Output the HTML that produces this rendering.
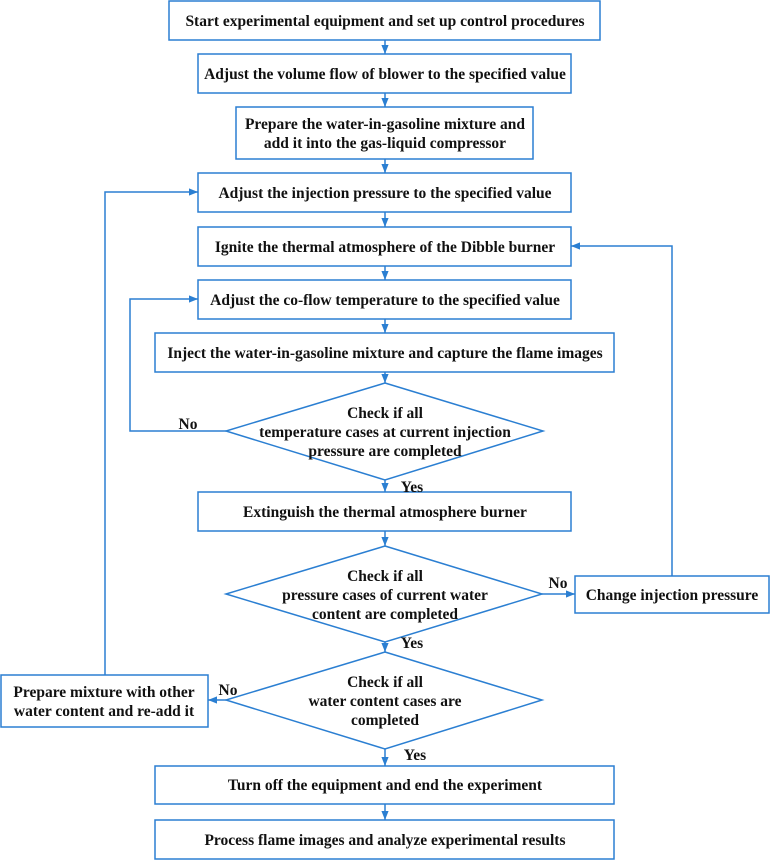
<!DOCTYPE html>
<html><head><meta charset="utf-8"><style>
html,body{margin:0;padding:0;background:#fff;}
svg{display:block}
text{font-family:"Liberation Serif",serif;font-weight:bold;font-size:15.5px;fill:#111;text-anchor:middle;}
.b{fill:#fff;stroke:#2b7fd2;stroke-width:1.5}
.l{fill:none;stroke:#2b7fd2;stroke-width:1.5}
.a{fill:#2b7fd2}
</style></head><body>
<svg width="771" height="861" viewBox="0 0 771 861" xmlns="http://www.w3.org/2000/svg">
<defs><marker id="m" viewBox="0 0 10 10" refX="10" refY="5" markerWidth="6" markerHeight="6" orient="auto"><path d="M0,1 L10,5 L0,9 z" class="a"/></marker></defs>
<rect class="b" x="169" y="1" width="431" height="39"/>
<text x="385" y="26">Start experimental equipment and set up control procedures</text>
<rect class="b" x="198" y="54" width="373" height="39"/>
<text x="385" y="79">Adjust the volume flow of blower to the specified value</text>
<rect class="b" x="236" y="107" width="297" height="52"/>
<text x="385" y="129">Prepare the water-in-gasoline mixture and</text>
<text x="385" y="148">add it into the gas-liquid compressor</text>
<rect class="b" x="198" y="173" width="373" height="39"/>
<text x="385" y="198">Adjust the injection pressure to the specified value</text>
<rect class="b" x="198" y="227" width="373" height="39"/>
<text x="385" y="252">Ignite the thermal atmosphere of the Dibble burner</text>
<rect class="b" x="198" y="280" width="373" height="39"/>
<text x="385" y="305">Adjust the co-flow temperature to the specified value</text>
<rect class="b" x="155" y="333" width="459" height="39"/>
<text x="385" y="358">Inject the water-in-gasoline mixture and capture the flame images</text>
<polygon class="b" points="385,383 543,431 385,480 226,431"/>
<text x="385" y="418">Check if all</text>
<text x="385" y="437">temperature cases at current injection</text>
<text x="385" y="456">pressure are completed</text>
<rect class="b" x="198" y="492" width="373" height="39"/>
<text x="385" y="517">Extinguish the thermal atmosphere burner</text>
<polygon class="b" points="385,546 542,594 385,642 226,594"/>
<text x="385" y="581">Check if all</text>
<text x="385" y="600">pressure cases of current  water</text>
<text x="385" y="619">content are completed</text>
<rect class="b" x="575" y="576" width="194" height="37"/>
<text x="672" y="600">Change injection pressure</text>
<polygon class="b" points="385,652 542,700 385,749 226,700"/>
<text x="385" y="687">Check if all</text>
<text x="385" y="706">water content cases are</text>
<text x="385" y="725">completed</text>
<rect class="b" x="1" y="675" width="207" height="52"/>
<text x="104" y="697">Prepare mixture with other</text>
<text x="104" y="716">water content and re-add it</text>
<rect class="b" x="155" y="766" width="459" height="38"/>
<text x="385" y="790">Turn off the equipment and end the experiment</text>
<rect class="b" x="155" y="820" width="459" height="39"/>
<text x="385" y="845">Process flame images and analyze experimental results</text>
<g class="l" marker-end="url(#m)">
<line x1="385" y1="40" x2="385" y2="54"/>
<line x1="385" y1="93" x2="385" y2="107"/>
<line x1="385" y1="159" x2="385" y2="173"/>
<line x1="385" y1="212" x2="385" y2="227"/>
<line x1="385" y1="266" x2="385" y2="280"/>
<line x1="385" y1="319" x2="385" y2="333"/>
<line x1="385" y1="372" x2="385" y2="383"/>
<line x1="385" y1="480" x2="385" y2="492"/>
<line x1="385" y1="531" x2="385" y2="546"/>
<line x1="385" y1="642" x2="385" y2="652"/>
<line x1="385" y1="749" x2="385" y2="766"/>
<line x1="385" y1="804" x2="385" y2="820"/>
<line x1="542" y1="594" x2="575" y2="594"/>
<line x1="226" y1="700" x2="208" y2="700"/>
<polyline points="105,675 105,192 198,192"/>
<polyline points="226,431 130,431 130,299 198,299"/>
<polyline points="672,576 672,246 571,246"/>
</g>
<text x="188" y="429">No</text>
<text x="412" y="492">Yes</text>
<text x="558" y="588">No</text>
<text x="412" y="648">Yes</text>
<text x="228" y="695">No</text>
<text x="415" y="760">Yes</text>
</svg>
</body></html>
